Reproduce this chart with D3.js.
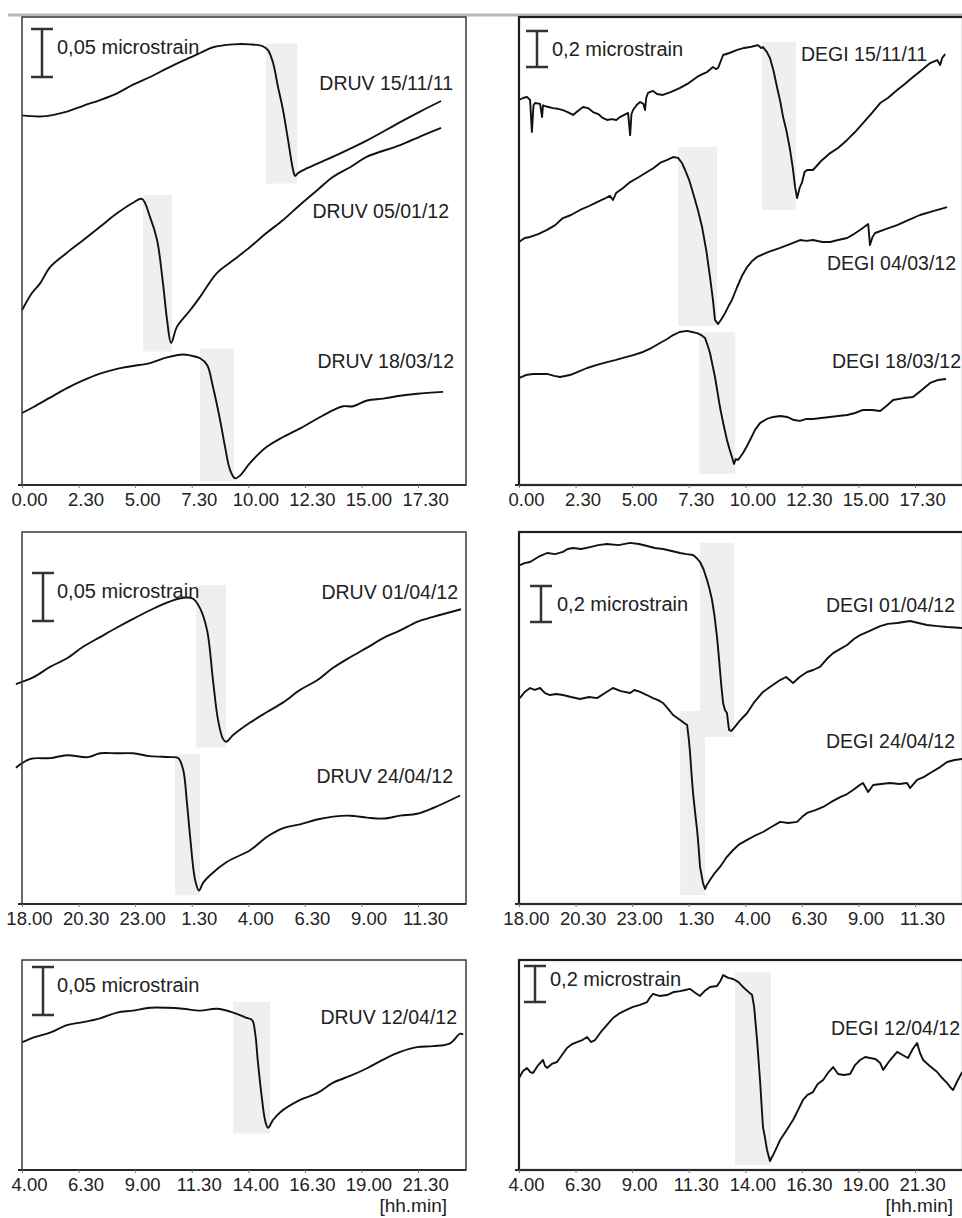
<!DOCTYPE html>
<html>
<head>
<meta charset="utf-8">
<script src="https://cdn.jsdelivr.net/npm/d3@7"></script>
<style>
  body { margin: 0; background: #fff; }
  svg { display: block; font-family: "Liberation Sans", Arial, sans-serif; }
</style>
</head>
<body>
<svg id="chart" width="962" height="1218"></svg>
<script>
// ---- time axes (hours; values past 24 belong to the next day) ----
const ticksDay = [0, 2.5, 5, 7.5, 10, 12.5, 15, 17.5];
const tickLabelsDay = ["0.00", "2.30", "5.00", "7.30", "10.00", "12.30", "15.00", "17.30"];
const ticksNight = [18, 20.5, 23, 25.5, 28, 30.5, 33, 35.5];
const tickLabelsNight = ["18.00", "20.30", "23.00", "1.30", "4.00", "6.30", "9.00", "11.30"];
const ticksMorning = [4, 6.5, 9, 11.5, 14, 16.5, 19, 21.5];
const tickLabelsMorning = ["4.00", "6.30", "9.00", "11.30", "14.00", "16.30", "19.00", "21.30"];

// ---- strain records: [hour, microstrain] ----
const druv151111 = [[0.00,0.385],[0.93,0.384],[1.99,0.389],[2.70,0.395],[3.45,0.401],[4.20,0.408],[4.91,0.417],[5.66,0.425],[6.41,0.434],[7.12,0.442],[7.87,0.450],[8.44,0.456],[9.33,0.459],[10.08,0.459],[10.65,0.457],[10.87,0.453],[11.09,0.440],[11.31,0.415],[11.53,0.391],[11.76,0.359],[11.98,0.328],[12.07,0.322],[12.20,0.325],[12.60,0.330],[13.75,0.342],[15.25,0.359],[16.71,0.378],[17.59,0.389],[18.52,0.400]];
const druv050112 = [[0.00,0.182],[0.44,0.200],[0.80,0.210],[1.24,0.227],[1.99,0.242],[2.70,0.255],[3.45,0.269],[4.20,0.283],[4.91,0.294],[5.30,0.298],[5.66,0.279],[5.97,0.255],[6.23,0.210],[6.41,0.172],[6.59,0.148],[6.85,0.165],[7.43,0.182],[7.87,0.196],[8.62,0.221],[9.33,0.234],[10.08,0.248],[10.83,0.263],[11.54,0.276],[12.29,0.292],[13.04,0.307],[13.75,0.321],[14.50,0.331],[15.25,0.342],[16.71,0.354],[17.59,0.363],[18.52,0.372]];
const druv180312 = [[0.00,0.075],[0.49,0.081],[1.24,0.091],[1.99,0.101],[2.70,0.109],[3.45,0.116],[4.20,0.121],[4.91,0.124],[5.66,0.127],[6.41,0.133],[7.12,0.136],[7.43,0.135],[7.87,0.132],[8.18,0.125],[8.44,0.102],[8.75,0.068],[8.97,0.040],[9.19,0.016],[9.41,0.007],[9.64,0.010],[10.08,0.023],[10.83,0.040],[11.54,0.050],[12.29,0.059],[13.04,0.069],[13.75,0.078],[14.19,0.082],[14.63,0.082],[15.25,0.088],[15.96,0.090],[16.71,0.093],[17.46,0.095],[18.61,0.097]];

const degi151111 = [[0.00,2.139],[0.18,2.150],[0.35,2.156],[0.49,2.139],[0.57,1.961],[0.64,2.110],[0.71,2.122],[0.93,2.117],[1.02,2.044],[1.06,2.110],[1.11,2.106],[1.30,2.100],[1.50,2.094],[1.72,2.090],[1.94,2.083],[2.15,2.072],[2.39,2.056],[2.60,2.078],[2.83,2.100],[3.05,2.094],[3.27,2.072],[3.50,2.061],[3.70,2.039],[3.89,2.028],[4.10,2.033],[4.30,2.028],[4.46,2.044],[4.65,2.056],[4.82,2.067],[4.91,1.944],[4.97,2.061],[5.04,2.083],[5.20,2.111],[5.35,2.128],[5.50,2.117],[5.57,2.083],[5.62,2.150],[5.70,2.178],[5.92,2.189],[6.10,2.172],[6.36,2.167],[6.70,2.183],[7.12,2.206],[7.50,2.233],[7.87,2.267],[8.10,2.283],[8.31,2.294],[8.57,2.322],[8.70,2.311],[8.80,2.317],[9.02,2.389],[9.30,2.400],[9.64,2.417],[9.95,2.428],[10.21,2.433],[10.40,2.439],[10.56,2.444],[10.70,2.428],[10.78,2.433],[10.95,2.406],[11.09,2.372],[11.25,2.300],[11.40,2.211],[11.55,2.128],[11.67,2.044],[11.82,1.967],[11.98,1.861],[12.10,1.760],[12.20,1.656],[12.29,1.594],[12.40,1.650],[12.51,1.683],[12.62,1.739],[12.73,1.750],[12.99,1.750],[13.35,1.800],[13.75,1.844],[14.10,1.872],[14.50,1.917],[14.85,1.961],[15.20,2.011],[15.60,2.067],[15.96,2.122],[16.30,2.150],[16.71,2.194],[17.05,2.228],[17.41,2.267],[17.80,2.306],[18.17,2.344],[18.48,2.361],[18.61,2.333],[18.70,2.372],[18.83,2.394]];
const degi040312 = [[0.00,1.350],[0.25,1.372],[0.49,1.378],[0.85,1.394],[1.24,1.417],[1.60,1.444],[1.94,1.483],[2.30,1.500],[2.70,1.528],[3.10,1.550],[3.45,1.572],[3.75,1.589],[4.02,1.606],[4.15,1.583],[4.29,1.622],[4.60,1.650],[4.91,1.683],[5.30,1.711],[5.66,1.739],[5.95,1.761],[6.23,1.789],[6.55,1.806],[6.81,1.822],[7.03,1.817],[7.20,1.789],[7.34,1.750],[7.52,1.694],[7.69,1.622],[7.90,1.530],[8.09,1.433],[8.28,1.300],[8.44,1.156],[8.57,1.028],[8.66,0.917],[8.80,0.894],[8.95,0.922],[9.11,0.956],[9.26,0.994],[9.41,1.028],[9.64,1.100],[9.85,1.161],[10.08,1.211],[10.30,1.244],[10.52,1.267],[11.00,1.294],[11.54,1.317],[12.00,1.339],[12.42,1.361],[12.70,1.356],[12.99,1.361],[13.40,1.350],[13.75,1.350],[14.10,1.361],[14.50,1.372],[14.80,1.394],[15.07,1.417],[15.25,1.433],[15.43,1.450],[15.51,1.333],[15.62,1.378],[15.74,1.400],[16.20,1.422],[16.71,1.444],[17.20,1.472],[17.72,1.500],[18.30,1.522],[18.92,1.544]];
const degi180312 = [[0.00,0.594],[0.30,0.611],[0.62,0.617],[1.24,0.617],[1.55,0.606],[1.81,0.600],[2.25,0.611],[2.60,0.628],[3.01,0.650],[3.45,0.667],[3.89,0.683],[4.25,0.694],[4.60,0.706],[5.05,0.722],[5.48,0.739],[5.85,0.761],[6.23,0.789],[6.55,0.811],[6.81,0.833],[7.10,0.850],[7.43,0.856],[7.65,0.850],[7.87,0.844],[8.05,0.833],[8.22,0.817],[8.33,0.778],[8.44,0.733],[8.55,0.667],[8.66,0.600],[8.77,0.517],[8.88,0.433],[9.03,0.340],[9.19,0.250],[9.30,0.200],[9.41,0.156],[9.50,0.117],[9.58,0.144],[9.68,0.139],[9.90,0.178],[10.05,0.211],[10.21,0.250],[10.43,0.306],[10.65,0.344],[10.95,0.367],[11.23,0.378],[11.55,0.383],[11.85,0.378],[12.15,0.361],[12.42,0.356],[12.70,0.367],[12.99,0.367],[13.35,0.372],[13.75,0.378],[14.10,0.383],[14.50,0.389],[14.85,0.400],[15.20,0.417],[15.60,0.417],[15.96,0.411],[16.25,0.440],[16.53,0.472],[17.00,0.483],[17.41,0.489],[17.80,0.528],[18.17,0.567],[18.50,0.583],[18.87,0.589]];

const druv010412 = [[17.73,0.229],[18.49,0.236],[19.24,0.247],[19.99,0.256],[20.70,0.268],[21.45,0.278],[22.20,0.288],[22.91,0.297],[23.66,0.306],[24.41,0.314],[25.12,0.319],[25.56,0.318],[25.87,0.308],[26.18,0.285],[26.44,0.233],[26.66,0.192],[26.88,0.172],[27.02,0.169],[27.33,0.176],[28.08,0.189],[28.83,0.200],[29.54,0.210],[30.29,0.223],[31.04,0.233],[31.75,0.246],[32.50,0.257],[33.25,0.267],[33.96,0.277],[34.71,0.285],[35.46,0.294],[36.17,0.299],[37.40,0.307]];
const druv240412 = [[17.73,0.142],[18.35,0.151],[19.24,0.152],[19.99,0.155],[20.92,0.153],[21.45,0.157],[22.20,0.157],[22.91,0.157],[23.66,0.154],[24.54,0.153],[24.90,0.152],[25.12,0.140],[25.29,0.105],[25.43,0.070],[25.65,0.025],[25.82,0.014],[26.00,0.022],[26.31,0.030],[27.06,0.044],[28.08,0.056],[28.83,0.070],[29.54,0.079],[30.29,0.083],[31.04,0.088],[31.75,0.091],[32.50,0.092],[33.25,0.090],[33.96,0.089],[34.71,0.092],[35.46,0.094],[36.17,0.100],[37.36,0.113]];

const degi010412 = [[18.04,1.883],[18.25,1.894],[18.49,1.900],[18.85,1.928],[19.24,1.950],[19.60,1.944],[19.94,1.956],[20.15,1.972],[20.39,1.978],[20.75,1.972],[21.14,1.983],[21.50,1.994],[21.89,2.000],[22.40,1.994],[22.91,2.006],[23.30,2.000],[23.66,1.989],[24.00,1.978],[24.36,1.972],[24.75,1.961],[25.12,1.950],[25.40,1.944],[25.69,1.939],[25.85,1.922],[26.00,1.900],[26.15,1.861],[26.31,1.800],[26.42,1.750],[26.53,1.689],[26.64,1.600],[26.75,1.483],[26.82,1.390],[26.88,1.300],[26.95,1.200],[27.02,1.117],[27.10,1.078],[27.19,1.061],[27.28,0.967],[27.37,0.961],[27.46,0.972],[27.75,1.017],[28.08,1.061],[28.40,1.122],[28.78,1.178],[29.15,1.211],[29.54,1.244],[29.80,1.261],[30.11,1.228],[30.40,1.261],[30.73,1.289],[31.00,1.300],[31.30,1.317],[31.60,1.361],[31.88,1.394],[32.20,1.417],[32.50,1.439],[32.80,1.472],[33.07,1.494],[33.50,1.517],[33.96,1.544],[34.30,1.556],[34.71,1.561],[35.00,1.567],[35.28,1.572],[35.65,1.561],[36.03,1.550],[36.50,1.544],[36.92,1.539],[37.58,1.533]];
const degi240412 = [[18.04,1.144],[18.25,1.178],[18.49,1.200],[18.70,1.189],[18.93,1.200],[19.15,1.172],[19.37,1.161],[19.65,1.167],[19.94,1.161],[20.30,1.150],[20.70,1.139],[21.10,1.150],[21.45,1.144],[21.80,1.172],[22.15,1.200],[22.50,1.183],[22.91,1.172],[23.10,1.189],[23.35,1.178],[23.65,1.161],[23.92,1.144],[24.15,1.133],[24.36,1.117],[24.60,1.083],[24.81,1.050],[25.12,1.022],[25.30,1.006],[25.43,0.994],[25.50,0.920],[25.56,0.839],[25.62,0.730],[25.69,0.617],[25.78,0.510],[25.87,0.411],[25.94,0.310],[26.00,0.206],[26.13,0.117],[26.22,0.083],[26.30,0.106],[26.44,0.133],[26.65,0.172],[26.88,0.206],[27.15,0.256],[27.46,0.300],[27.75,0.333],[28.08,0.356],[28.40,0.378],[28.78,0.400],[29.15,0.428],[29.54,0.456],[29.90,0.450],[30.29,0.456],[30.50,0.483],[30.73,0.506],[31.10,0.522],[31.44,0.539],[31.80,0.567],[32.19,0.594],[32.50,0.611],[32.76,0.633],[33.00,0.656],[33.20,0.672],[33.43,0.622],[33.65,0.661],[34.00,0.667],[34.40,0.672],[34.80,0.667],[35.15,0.672],[35.28,0.644],[35.59,0.689],[35.90,0.706],[36.17,0.728],[36.55,0.756],[36.92,0.789],[37.25,0.800],[37.58,0.806]];

const druv120412 = [[4.00,0.133],[4.49,0.138],[5.24,0.143],[5.99,0.151],[6.70,0.154],[7.45,0.158],[8.20,0.164],[8.91,0.166],[9.66,0.169],[10.41,0.169],[11.12,0.168],[11.87,0.166],[12.62,0.168],[13.33,0.164],[13.86,0.159],[14.17,0.156],[14.30,0.143],[14.43,0.111],[14.61,0.073],[14.74,0.052],[14.87,0.044],[15.09,0.052],[15.40,0.060],[16.29,0.073],[17.04,0.080],[17.75,0.091],[18.50,0.098],[19.25,0.106],[19.96,0.115],[20.71,0.123],[21.46,0.128],[22.17,0.129],[22.92,0.132],[23.36,0.142],[23.49,0.141]];
const degi120412 = [[4.00,0.511],[4.18,0.550],[4.35,0.567],[4.50,0.544],[4.62,0.539],[4.85,0.583],[5.06,0.611],[5.15,0.578],[5.24,0.567],[5.45,0.589],[5.68,0.600],[5.90,0.639],[6.12,0.678],[6.35,0.700],[6.56,0.711],[6.80,0.722],[7.01,0.739],[7.18,0.711],[7.36,0.722],[7.62,0.767],[7.89,0.806],[8.15,0.844],[8.46,0.872],[8.75,0.889],[9.04,0.906],[9.35,0.917],[9.66,0.933],[9.80,0.961],[9.92,0.978],[10.20,0.967],[10.54,0.972],[10.85,0.989],[11.12,0.994],[11.35,1.000],[11.56,1.006],[11.80,0.983],[12.00,0.967],[12.20,0.994],[12.44,1.017],[12.75,1.022],[12.90,1.050],[13.02,1.083],[13.25,1.067],[13.46,1.061],[13.70,1.044],[13.90,1.017],[14.10,0.994],[14.30,0.972],[14.39,0.906],[14.52,0.722],[14.65,0.500],[14.78,0.239],[14.87,0.180],[14.96,0.111],[15.09,0.050],[15.23,0.083],[15.40,0.128],[15.54,0.167],[15.80,0.217],[16.11,0.278],[16.33,0.333],[16.55,0.389],[16.75,0.417],[16.99,0.433],[17.20,0.478],[17.44,0.500],[17.65,0.539],[17.88,0.572],[18.10,0.533],[18.35,0.528],[18.63,0.533],[18.85,0.583],[19.07,0.611],[19.30,0.628],[19.51,0.622],[19.75,0.617],[19.96,0.594],[20.09,0.556],[20.40,0.611],[20.71,0.656],[20.95,0.639],[21.19,0.622],[21.40,0.672],[21.59,0.706],[21.72,0.650],[21.86,0.611],[22.15,0.578],[22.48,0.544],[22.70,0.511],[22.92,0.483],[23.05,0.461],[23.18,0.444],[23.35,0.489],[23.58,0.544]];

// ---- event windows: [start hour, end hour, low microstrain, high microstrain] ----
const windowsDruvA = [[10.78,12.16,0.314,0.460],[5.35,6.63,0.139,0.302],[7.87,9.37,0.004,0.142]];
const windowsDegiA = [[10.74,12.24,1.528,2.461],[7.03,8.75,0.883,1.878],[7.96,9.55,0.061,0.850]];
const windowsDruvB = [[25.69,27.02,0.163,0.332],[24.76,25.87,0.009,0.156]];
const windowsDegiB = [[26.00,27.50,0.928,2.006],[25.12,26.22,0.050,1.072]];
const windowsDruvC = [[13.33,14.96,0.038,0.175]];
const windowsDegiC = [[13.55,15.14,0.028,1.100]];

// ---- panel layout ----
const PX_PER_HOUR = 22.63;
const panels = [
  { x: 22, y: 17, w: 444, h: 468, t0: 0, yMax: 0.4875, ticks: ticksDay, tickText: tickLabelsDay,
    records: [druv151111, druv050112, druv180312], windows: windowsDruvA, smooth: true,
    barValue: 0.05, barText: "0,05 microstrain", bar: { x: 20, top: 12, tx: 35, ty: 37 },
    names: [{ t: "DRUV 15/11/11", x: 431, y: 73, a: "end" }, { t: "DRUV 05/01/12", x: 427, y: 201, a: "end" }, { t: "DRUV 18/03/12", x: 432, y: 351, a: "end" }] },
  { x: 519, y: 17, w: 444, h: 468, t0: 0, yMax: 2.6, ticks: ticksDay, tickText: tickLabelsDay,
    records: [degi151111, degi040312, degi180312], windows: windowsDegiA, smooth: false,
    barValue: 0.2, barText: "0,2 microstrain", bar: { x: 18, top: 14, tx: 33, ty: 39 },
    names: [{ t: "DEGI 15/11/11", x: 282, y: 44, a: "start" }, { t: "DEGI 04/03/12", x: 308, y: 253, a: "start" }, { t: "DEGI 18/03/12", x: 313, y: 351, a: "start" }] },
  { x: 22, y: 532, w: 444, h: 372, t0: 18, yMax: 0.3875, ticks: ticksNight, tickText: tickLabelsNight,
    records: [druv010412, druv240412], windows: windowsDruvB, smooth: true,
    barValue: 0.05, barText: "0,05 microstrain", bar: { x: 21, top: 41, tx: 35, ty: 66 },
    names: [{ t: "DRUV 01/04/12", x: 436, y: 67, a: "end" }, { t: "DRUV 24/04/12", x: 431, y: 251, a: "end" }] },
  { x: 519, y: 532, w: 444, h: 372, t0: 18, yMax: 2.0667, ticks: ticksNight, tickText: tickLabelsNight,
    records: [degi010412, degi240412], windows: windowsDegiB, smooth: false,
    barValue: 0.2, barText: "0,2 microstrain", bar: { x: 22, top: 54, tx: 38, ty: 79 },
    names: [{ t: "DEGI 01/04/12", x: 307, y: 80, a: "start" }, { t: "DEGI 24/04/12", x: 307, y: 216, a: "start" }] },
  { x: 22, y: 960, w: 444, h: 210, t0: 4, yMax: 0.21875, ticks: ticksMorning, tickText: tickLabelsMorning,
    records: [druv120412], windows: windowsDruvC, smooth: true, unit: "[hh.min]",
    barValue: 0.05, barText: "0,05 microstrain", bar: { x: 21, top: 7, tx: 35, ty: 32 },
    names: [{ t: "DRUV 12/04/12", x: 435, y: 64, a: "end" }] },
  { x: 519, y: 960, w: 444, h: 210, t0: 4, yMax: 1.1667, ticks: ticksMorning, tickText: tickLabelsMorning,
    records: [degi120412], windows: windowsDegiC, smooth: false, unit: "[hh.min]",
    barValue: 0.2, barText: "0,2 microstrain", bar: { x: 16, top: 6, tx: 31, ty: 26 },
    names: [{ t: "DEGI 12/04/12", x: 312, y: 75, a: "start" }] }
];

const svg = d3.select("#chart");

// thin grey rule across the top of the page
svg.append("line")
  .attr("x1", 8).attr("x2", 962).attr("y1", 15).attr("y2", 15)
  .attr("stroke", "#b8b8b8").attr("stroke-width", 3);

panels.forEach(p => {
  const g = svg.append("g").attr("transform", `translate(${p.x},${p.y})`);
  const x = d3.scaleLinear().domain([p.t0, p.t0 + p.w / PX_PER_HOUR]).range([0, p.w]);
  const y = d3.scaleLinear().domain([0, p.yMax]).range([p.h, 0]);

  // shaded event windows
  g.selectAll("rect.win").data(p.windows).join("rect")
    .attr("class", "win")
    .attr("x", d => x(d[0])).attr("width", d => x(d[1]) - x(d[0]))
    .attr("y", d => y(d[3])).attr("height", d => y(d[2]) - y(d[3]))
    .attr("fill", "#efefef");

  // strain traces
  const line = d3.line()
    .x(d => x(d[0])).y(d => y(d[1]))
    .curve(p.smooth ? d3.curveCatmullRom.alpha(0.5) : d3.curveLinear);
  g.selectAll("path.rec").data(p.records).join("path")
    .attr("class", "rec")
    .attr("d", line)
    .attr("fill", "none").attr("stroke", "#111")
    .attr("stroke-width", 1.9).attr("stroke-linejoin", "round");

  // series names
  g.selectAll("text.name").data(p.names).join("text")
    .attr("class", "name")
    .attr("x", d => d.x).attr("y", d => d.y)
    .attr("text-anchor", d => d.a)
    .attr("font-size", 19.5).attr("fill", "#222")
    .text(d => d.t);

  // strain scale bar
  const len = y(0) - y(p.barValue);
  const b = g.append("g").attr("stroke", "#333").attr("stroke-width", 2.5);
  b.append("line").attr("x1", p.bar.x).attr("x2", p.bar.x).attr("y1", p.bar.top).attr("y2", p.bar.top + len);
  b.append("line").attr("x1", p.bar.x - 11).attr("x2", p.bar.x + 11).attr("y1", p.bar.top).attr("y2", p.bar.top);
  b.append("line").attr("x1", p.bar.x - 11).attr("x2", p.bar.x + 11).attr("y1", p.bar.top + len).attr("y2", p.bar.top + len);
  g.append("text")
    .attr("x", p.bar.tx).attr("y", p.bar.ty)
    .attr("font-size", 20).attr("fill", "#222")
    .text(p.barText);

  // frame
  g.append("rect")
    .attr("width", p.w).attr("height", p.h)
    .attr("fill", "none").attr("stroke", p.x > 400 ? "#1e1e1e" : "#3a3a3a")
    .attr("stroke-width", p.x > 400 ? 2.2 : 1.5);

  // time axis
  const labelOf = d3.scaleOrdinal().domain(p.ticks).range(p.tickText);
  const axis = g.append("g")
    .attr("transform", `translate(0,${p.h})`)
    .call(d3.axisBottom(x).tickValues(p.ticks).tickFormat(labelOf)
      .tickSize(3).tickPadding(5).tickSizeOuter(0));
  axis.select(".domain").attr("d", `M-4,0H${p.w}`).attr("stroke", "#2a2a2a").attr("stroke-width", 2);
  axis.selectAll(".tick line").attr("stroke", "#777");
  axis.selectAll(".tick text")
    .attr("dx", 7).attr("font-size", 18.5).attr("fill", "#222")
    .attr("font-family", '"Liberation Sans", Arial, sans-serif');

  if (p.unit) {
    g.append("text")
      .attr("x", p.x > 400 ? 434 : 425).attr("y", 252)
      .attr("text-anchor", "end").attr("font-size", 19).attr("fill", "#222")
      .text(p.unit);
  }
});
</script>
</body>
</html>
